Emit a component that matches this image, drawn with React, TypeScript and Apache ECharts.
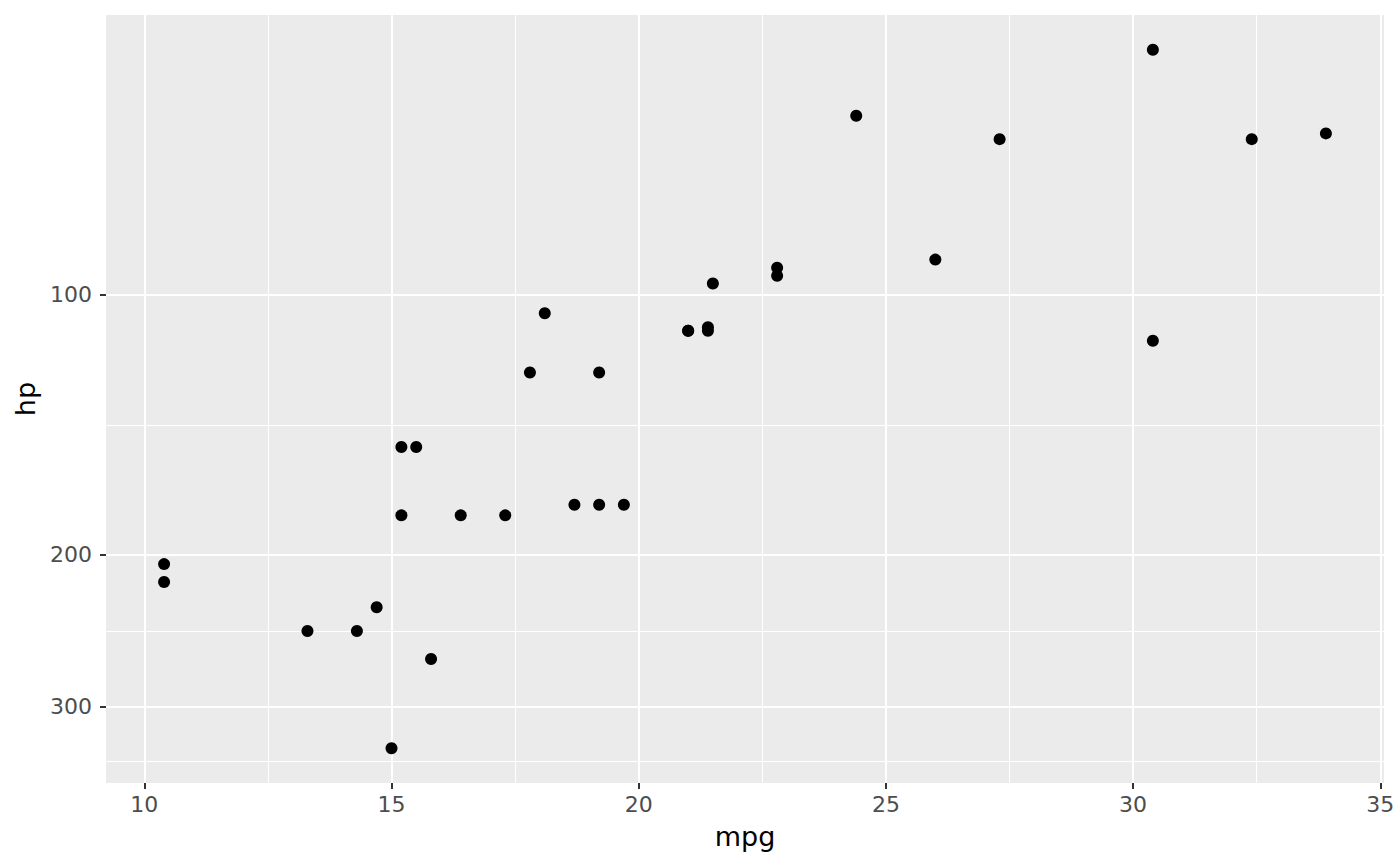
import React, { useEffect, useRef } from "react";
import * as echarts from "echarts";

const mpg = [21.0, 21.0, 22.8, 21.4, 18.7, 18.1, 14.3, 24.4, 22.8, 19.2, 17.8, 16.4, 17.3, 15.2, 10.4, 10.4, 14.7, 32.4, 30.4, 33.9, 21.5, 15.5, 15.2, 13.3, 19.2, 27.3, 26.0, 30.4, 15.8, 19.7, 15.0, 21.4];
const hp = [110, 110, 93, 110, 175, 105, 245, 62, 95, 123, 123, 180, 180, 180, 205, 215, 230, 66, 52, 65, 97, 150, 150, 245, 175, 66, 91, 113, 264, 175, 335, 109];

const xMajor = [10, 15, 20, 25, 30, 35];
const xMinor = [12.5, 17.5, 22.5, 27.5, 32.5];
const yMajor = [100, 200, 300];
const yMinor = [141.42, 244.95, 346.41];

export default function App() {
  const ref = useRef<HTMLDivElement>(null);
  useEffect(() => {
    if (!ref.current) return;
    const chart = echarts.init(ref.current, null, { renderer: "svg" });
    const xMin = 9.225, xMax = 35.075;
    const yMin = 47.4, yMax = 367.5;
    const font = "DejaVu Sans";
    const hiddenLine = { show: true, lineStyle: { color: "rgba(0,0,0,0)", width: 0 } };
    chart.setOption({
      animation: false,
      grid: { left: 106, right: 16, top: 15, bottom: 83, show: true, backgroundColor: "#EBEBEB", borderWidth: 0 },
      xAxis: [
        {
          type: "value", min: xMin, max: xMax,
          name: "mpg", nameLocation: "middle", nameGap: 40,
          nameTextStyle: { color: "#000000", fontSize: 27, fontFamily: font },
          axisLine: hiddenLine,
          axisTick: { show: true, length: 6, lineStyle: { color: "#333333", width: 2 }, customValues: xMajor },
          axisLabel: { color: "#4D4D4D", fontSize: 22, fontFamily: font, margin: 10, customValues: xMajor, formatter: (v: number) => String(v) },
          splitLine: { show: true, lineStyle: { color: "#FFFFFF", width: 2 } },
          z: 2,
        },
        {
          type: "value", min: xMin, max: xMax, position: "bottom",
          axisLine: { show: false },
          axisTick: { show: false, customValues: xMinor },
          axisLabel: { show: false, customValues: xMinor },
          splitLine: { show: true, lineStyle: { color: "#FFFFFF", width: 1 } },
          z: 1,
        },
      ],
      yAxis: [
        {
          type: "log", min: yMin, max: yMax, inverse: true,
          name: "hp", nameLocation: "middle", nameGap: 64,
          nameTextStyle: { color: "#000000", fontSize: 27, fontFamily: font },
          axisLine: hiddenLine,
          axisTick: { show: true, length: 6, lineStyle: { color: "#333333", width: 2 }, customValues: yMajor },
          axisLabel: { color: "#4D4D4D", fontSize: 22, fontFamily: font, margin: 14, customValues: yMajor, formatter: (v: number) => String(Math.round(v)) },
          splitLine: { show: true, lineStyle: { color: "#FFFFFF", width: 2 } },
          minorSplitLine: { show: false },
          z: 2,
        },
        {
          type: "log", min: yMin, max: yMax, inverse: true, position: "left",
          axisLine: { show: false },
          axisTick: { show: false, customValues: yMinor },
          axisLabel: { show: false, customValues: yMinor },
          splitLine: { show: true, lineStyle: { color: "#FFFFFF", width: 1 } },
          z: 1,
        },
      ],
      series: [
        {
          type: "scatter",
          xAxisIndex: 0,
          yAxisIndex: 0,
          symbol: "circle",
          symbolSize: 12,
          itemStyle: { color: "#000000", opacity: 1 },
          data: mpg.map((m, i) => [m, hp[i]]),
          z: 5,
        },
      ],
    });
    return () => chart.dispose();
  }, []);
  return <div ref={ref} style={{ width: 1400, height: 866, position: "absolute", left: 0, top: 0 }} />;
}
